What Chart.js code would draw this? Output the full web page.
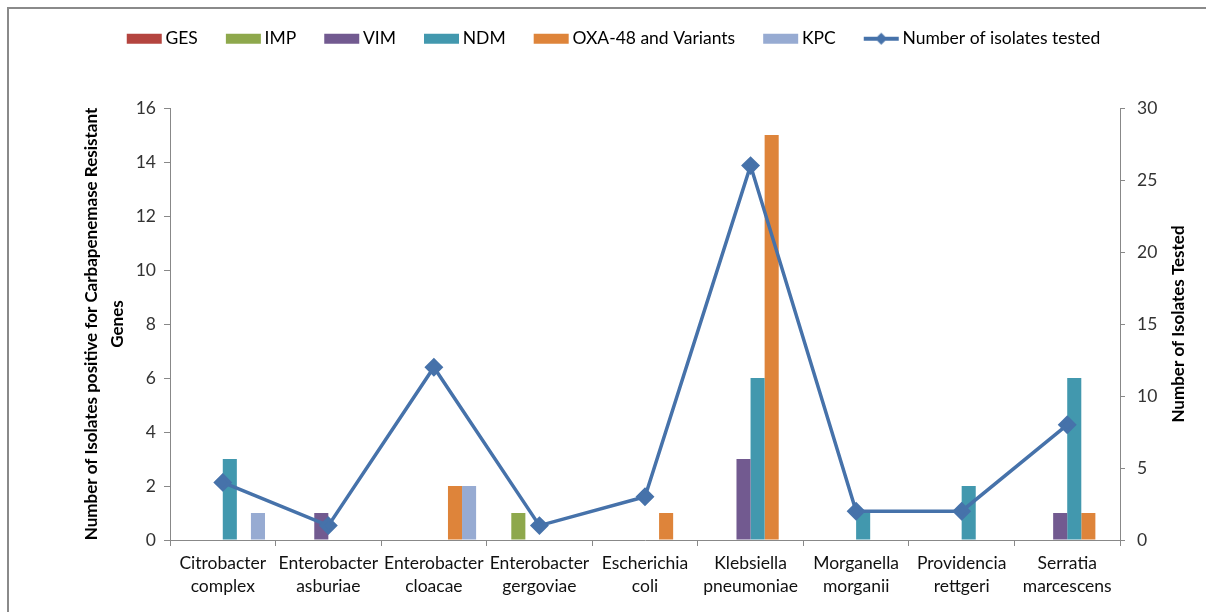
<!DOCTYPE html>
<html><head><meta charset="utf-8">
<script src="https://cdn.jsdelivr.net/npm/chart.js@4/dist/chart.umd.min.js"></script>
<style>html,body{margin:0;padding:0;background:#fff}#wrap{width:1206px;height:612px;position:relative}</style>
</head><body><div id="wrap"><canvas id="c" width="1206" height="612"></canvas></div>
<script>
const categories = [['Citrobacter','complex'],['Enterobacter','asburiae'],['Enterobacter','cloacae'],['Enterobacter','gergoviae'],['Escherichia','coli'],['Klebsiella','pneumoniae'],['Morganella','morganii'],['Providencia','rettgeri'],['Serratia','marcescens']];
const gesValues = [0,0,0,0,0,0,0,0,0];
const impValues = [0,0,0,1,0,0,0,0,0];
const vimValues = [0,1,0,0,0,3,0,0,1];
const ndmValues = [3,0,0,0,0,6,1,2,6];
const oxaValues = [0,0,2,0,1,15,0,0,1];
const kpcValues = [1,0,2,0,0,0,0,0,0];
const isolatesTested = [4,1,12,1,3,26,2,2,8];
const seriesNames = ['GES','IMP','VIM','NDM','OXA-48 and Variants','KPC'];
const lineName = 'Number of isolates tested';
const leftAxisTitle = ['Number of Isolates positive for Carbapenemase Resistant','Genes'];
const rightAxisTitle = 'Number of Isolates Tested';

const colors = ['#B4443F','#8EA84C','#725A90','#4298AE','#DE843A','#97ABD2'];
const lineColor = '#4672AA';
const FONT = 'Lato';
const FS = 17.5;

// legend swatches: image 43 wide centred at x+15.5 -> swatch spans x..x+37
function swatch(color){
  const c = document.createElement('canvas'); c.width = 43; c.height = 12;
  const x = c.getContext('2d'); x.fillStyle = color; x.fillRect(7,1,35,10); return c;
}
function lineSwatch(){
  const c = document.createElement('canvas'); c.width = 43; c.height = 14;
  const x = c.getContext('2d'); x.strokeStyle = lineColor; x.lineWidth = 4;
  x.beginPath(); x.moveTo(7,7); x.lineTo(42,7); x.stroke();
  x.fillStyle = lineColor; x.beginPath(); x.moveTo(24.5,1); x.lineTo(30.5,7); x.lineTo(24.5,13); x.lineTo(18.5,7); x.closePath(); x.fill();
  return c;
}

const barValues = [gesValues, impValues, vimValues, ndmValues, oxaValues, kpcValues];
const datasets = [{
  type:'line', label: lineName, data: isolatesTested, yAxisID:'y1',
  borderColor: lineColor, backgroundColor: lineColor, borderWidth: 3.5,
  pointStyle:'rectRot', pointRadius: 7, pointHoverRadius: 7, pointBackgroundColor: lineColor, pointBorderColor: lineColor, tension: 0
}];
barValues.forEach((v,i)=>datasets.push({type:'bar', label: seriesNames[i], data: v, yAxisID:'y', backgroundColor: colors[i], borderWidth:0, categoryPercentage:0.8, barPercentage:1.0}));

const decor = {
  id:'decor',
  beforeInit(chart){
    const lg = chart.legend; const f = lg.fit;
    lg.fit = function(){ f.call(this); this.height = 105; };
  },
  afterLayout(chart){
    chart.legend.left += 20;
  },
  beforeDraw(chart){
    const ctx = chart.ctx; ctx.save();
    ctx.strokeStyle = '#8a8a8a'; ctx.lineWidth = 2;
    ctx.beginPath(); ctx.moveTo(8,612); ctx.lineTo(8,8); ctx.lineTo(1206,8); ctx.stroke();
    ctx.restore();
  },
  afterDraw(chart){
    const ctx = chart.ctx; ctx.save();
    const a = chart.chartArea;
    ctx.translate(1179, (a.top + a.bottom)/2); ctx.rotate(-Math.PI/2);
    ctx.font = 'bold 17px ' + FONT; ctx.fillStyle = '#000'; ctx.textAlign='center'; ctx.textBaseline='middle';
    ctx.fillText(rightAxisTitle, 0, 0); ctx.restore();
  }
};

new Chart(document.getElementById('c'), {
  data: { labels: categories, datasets },
  plugins: [decor],
  options: {
    responsive:false, devicePixelRatio:1, animation:false,
    layout:{padding:{top:3}},
    font:{family:FONT},
    plugins:{
      tooltip:{enabled:false},
      legend:{
        position:'top',
        labels:{
          usePointStyle:true, pointStyleWidth:31, padding:27, color:'#000',
          font:{family:FONT, size:FS},
          generateLabels(chart){
            const items = chart.data.datasets.map((ds,i)=>({
              text: ds.label, datasetIndex:i, hidden:false,
              pointStyle: ds.type==='line' ? lineSwatch() : swatch(ds.backgroundColor),
              fillStyle: ds.backgroundColor, strokeStyle: ds.backgroundColor, lineWidth:0, fontColor:'#000'
            }));
            return items.slice(1).concat(items.slice(0,1));
          }
        }
      }
    },
    scales:{
      x:{
        type:'category', offset:true,
        grid:{display:true, drawOnChartArea:false, drawTicks:true, tickLength:6, color:'#888', offset:true},
        border:{color:'#888'},
        ticks:{color:'#111', font:{family:FONT, size:FS, lineHeight:1.3}, padding:6, maxRotation:0, autoSkip:false},
        afterFit(s){ s.height = 72; }
      },
      y:{
        position:'left', min:0, max:16,
        ticks:{stepSize:2, color:'#333', font:{family:FONT, size:FS}, padding:8},
        grid:{drawOnChartArea:false, drawTicks:true, tickLength:6, color:'#888'},
        border:{color:'#888'},
        title:{display:true, text:leftAxisTitle, color:'#000', font:{family:FONT, size:17, weight:'bold', lineHeight:1.5}, padding:{top:79, bottom:0}},
        afterFit(s){ s.width = 170; }
      },
      y1:{
        position:'right', min:0, max:30,
        ticks:{stepSize:5, color:'#333', font:{family:FONT, size:FS}, padding:12},
        grid:{drawOnChartArea:false, drawTicks:true, tickLength:5, color:'#888'},
        border:{color:'#888'},
        afterFit(s){ s.width = 86; }
      }
    }
  }
});
</script></body></html>
